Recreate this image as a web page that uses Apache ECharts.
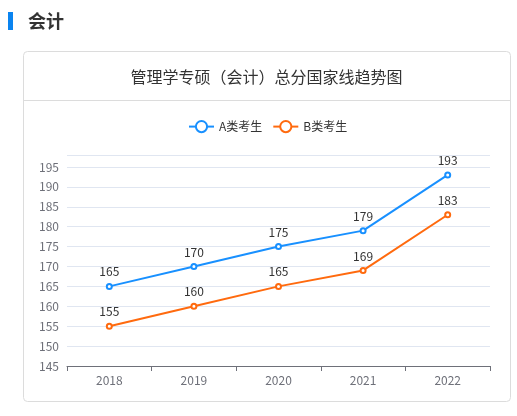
<!DOCTYPE html>
<html>
<head>
<meta charset="utf-8">
<script src="https://cdn.jsdelivr.net/npm/echarts@6/dist/echarts.min.js"></script>
<style>
html,body{margin:0;padding:0;background:#fff;}
#c{width:517px;height:416px;}
</style>
</head>
<body>
<div id="c"></div>
<script>
var years = ['2018', '2019', '2020', '2021', '2022'];
var seriesAName = 'A类考生';
var seriesBName = 'B类考生';
var seriesA = [165, 170, 175, 179, 193];
var seriesB = [155, 160, 165, 169, 183];
var yMin = 145, yMax = 198, yInterval = 5;

var FONT = '"Noto Sans CJK SC", "Noto Sans", sans-serif';
var chart = echarts.init(document.getElementById('c'));
chart.setOption({
  backgroundColor: '#fff',
  textStyle: { fontFamily: FONT },
  graphic: [
    { type: 'rect', shape: { x: 8, y: 12, width: 5, height: 18 }, style: { fill: '#0a84f0' }, z: 0 },
    { type: 'text', x: 28, y: 21, style: { text: '会计', fontSize: 18, fontWeight: 'bold', fill: '#333', fontFamily: FONT, textVerticalAlign: 'middle' }, z: 0 },
    { type: 'rect', shape: { x: 23.5, y: 51.5, width: 487, height: 350, r: 4 }, style: { fill: '#fff', stroke: '#dcdcdc', lineWidth: 1 }, z: -1 },
    { type: 'line', shape: { x1: 24, y1: 100.5, x2: 510, y2: 100.5 }, style: { stroke: '#dcdcdc', lineWidth: 1 }, z: 0 },
    { type: 'text', x: 266.5, y: 77, style: { text: '管理学专硕（会计）总分国家线趋势图', fontSize: 16, fill: '#333', fontFamily: FONT, textAlign: 'center', textVerticalAlign: 'middle' }, z: 0 }
  ],
  legend: {
    data: [seriesAName, seriesBName],
    top: 120,
    left: 188,
    padding: 0,
    itemGap: 10,
    textStyle: { fontSize: 12, color: '#333', fontFamily: FONT }
  },
  grid: { left: 67, right: 27, top: 155, bottom: 50, containLabel: false },
  xAxis: {
    type: 'category',
    data: years,
    boundaryGap: true,
    axisLine: { lineStyle: { color: '#6e7079' } },
    axisTick: { show: true, length: 5 },
    axisLabel: { color: '#6e7079', fontSize: 12, margin: 8, fontFamily: FONT }
  },
  yAxis: {
    type: 'value',
    min: yMin,
    max: yMax,
    interval: yInterval,
    axisLine: { show: false },
    axisTick: { show: false },
    axisLabel: { color: '#6e7079', fontSize: 12, margin: 8, fontFamily: FONT, showMaxLabel: false },
    splitLine: { lineStyle: { color: '#e0e6f1' } }
  },
  series: [
    {
      name: seriesAName, type: 'line', data: seriesA,
      symbol: 'emptyCircle', symbolSize: 5,
      itemStyle: { color: '#1890ff' },
      lineStyle: { width: 2, color: '#1890ff' },
      label: { show: true, position: 'top', color: '#333', fontSize: 12, fontFamily: FONT }
    },
    {
      name: seriesBName, type: 'line', data: seriesB,
      symbol: 'emptyCircle', symbolSize: 5,
      itemStyle: { color: '#ff6a0e' },
      lineStyle: { width: 2, color: '#ff6a0e' },
      label: { show: true, position: 'top', color: '#333', fontSize: 12, fontFamily: FONT }
    }
  ]
});
</script>
</body>
</html>
